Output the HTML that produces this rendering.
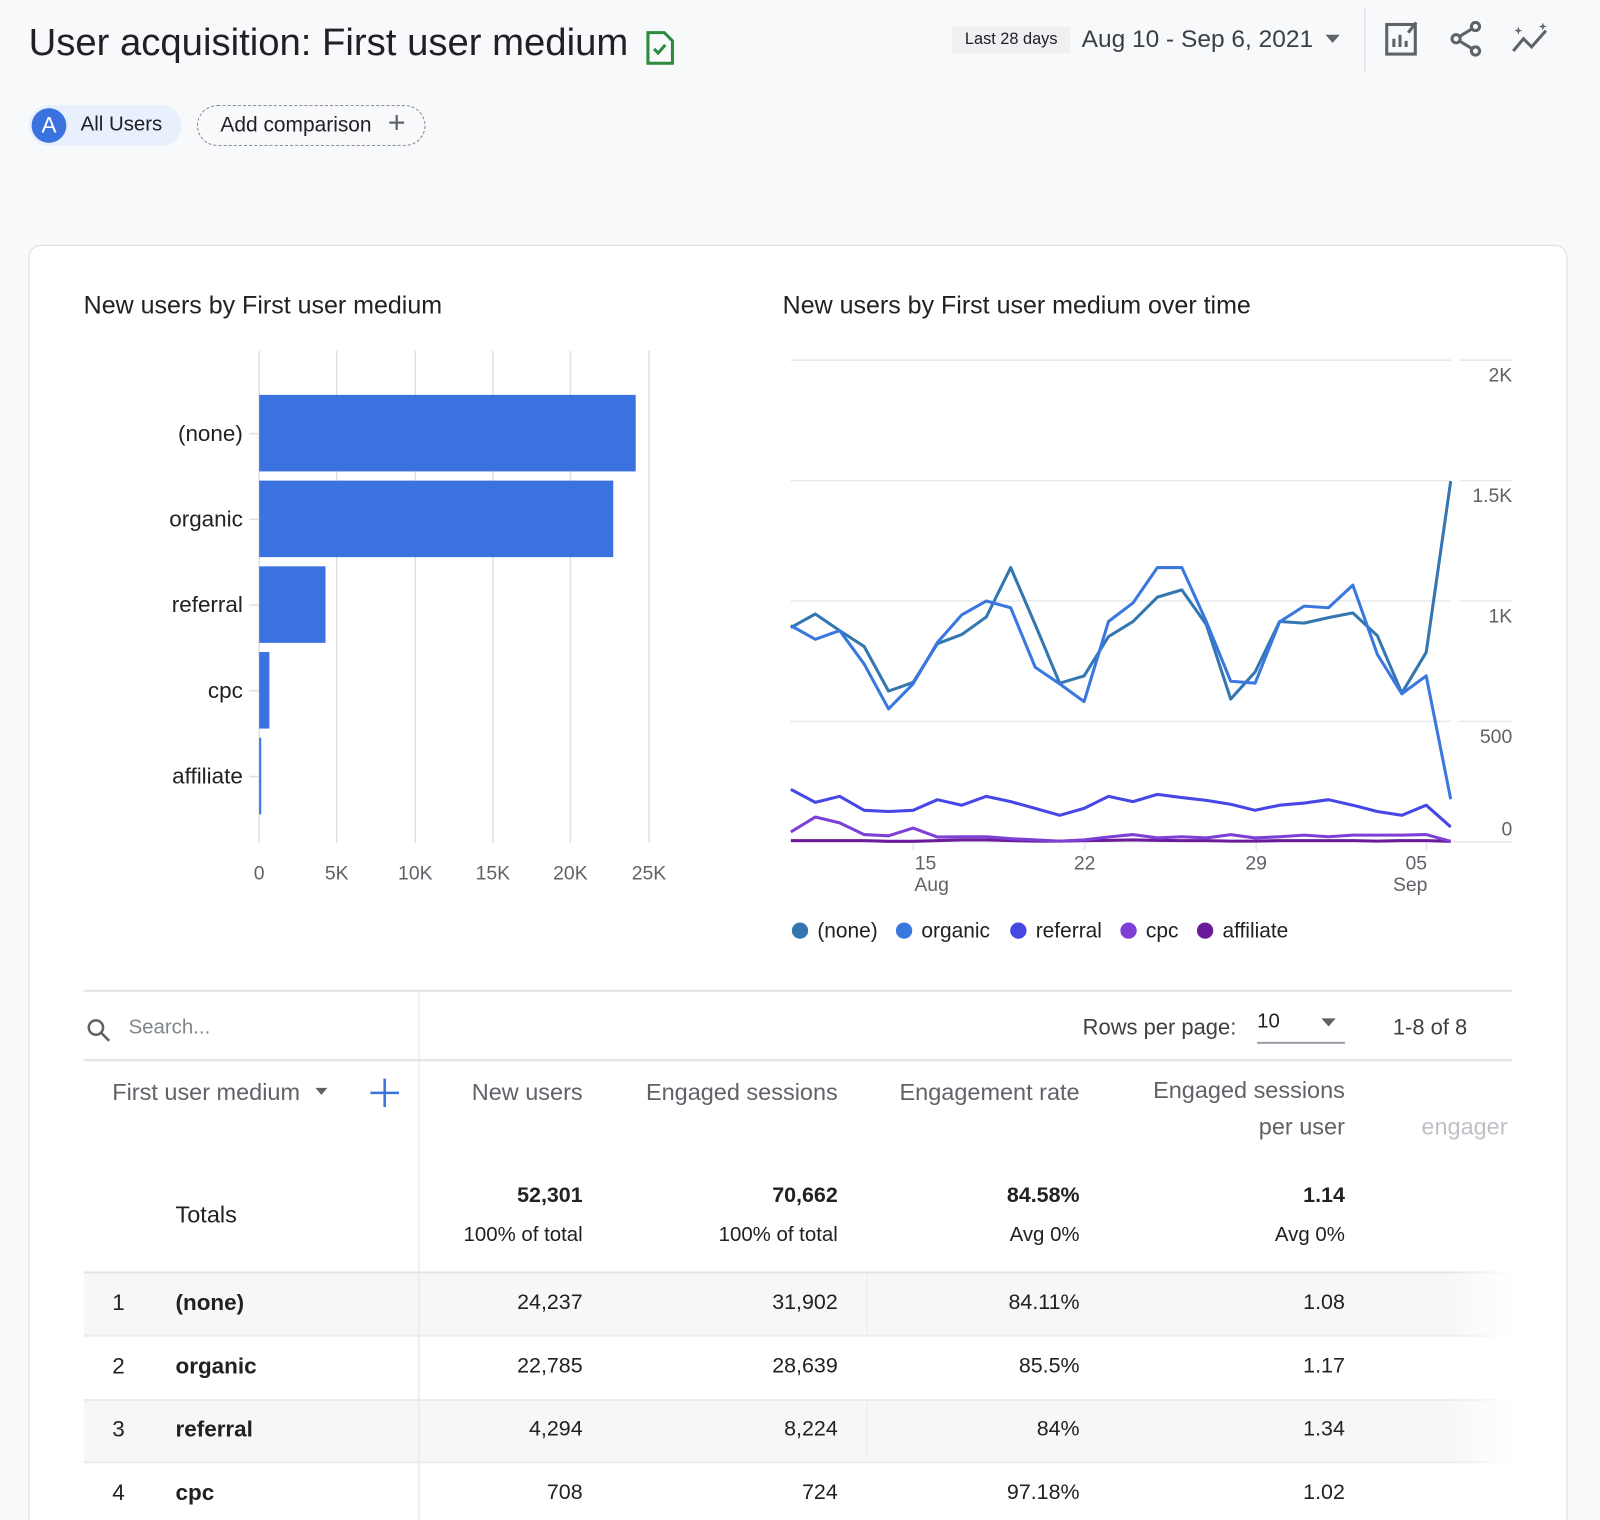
<!DOCTYPE html>
<html><head><meta charset="utf-8">
<style>
html,body{margin:0;padding:0;width:1600px;height:1520px;overflow:hidden;background:#f8f9fb;}
#w{position:absolute;left:0;top:0;width:1568px;height:1490px;overflow:hidden;transform:scale(1.0204);transform-origin:0 0;font-family:"Liberation Sans",sans-serif;color:#202124;}
.a{position:absolute;white-space:nowrap;}
.r{text-align:right;}
.g{color:#5f6368;}
</style></head><body><div id="w">
<div class="a" style="left:28px;top:20px;font-size:37.5px;">User acquisition: First user medium</div>
<svg class="a" style="left:632px;top:30px" width="30" height="34"><path d="M3 2h16l8 8v22H3z" fill="none" stroke="#2e8b3e" stroke-width="3"/><path d="M9 18l4 4 7-8" fill="none" stroke="#2e8b3e" stroke-width="3"/></svg>
<div class="a" style="left:933px;top:26px;width:116px;height:26px;background:#eef0f2;font-size:16px;line-height:26px;text-align:center;">Last 28 days</div>
<div class="a" style="left:1060px;top:25px;font-size:24px;color:#3c4043;">Aug 10 - Sep 6, 2021</div>
<svg class="a" style="left:1298px;top:33px" width="16" height="10"><path d="M1 1h14L8 9z" fill="#5f6368"/></svg>
<div class="a" style="left:1337px;top:8px;width:1px;height:62px;background:#dadce0"></div>
<svg class="a" style="left:1356px;top:20px" width="36" height="36"><rect x="3" y="4" width="28" height="29" fill="none" stroke="#5f6368" stroke-width="3"/><path d="M10 26v-8M16 26v-12M22 26v-6" stroke="#5f6368" stroke-width="3"/><path d="M24 12l8-10" stroke="#5f6368" stroke-width="3"/></svg>
<svg class="a" style="left:1420px;top:20px" width="36" height="36"><circle cx="26" cy="6" r="4" fill="none" stroke="#5f6368" stroke-width="3"/><circle cx="7" cy="18" r="4" fill="none" stroke="#5f6368" stroke-width="3"/><circle cx="26" cy="30" r="4" fill="none" stroke="#5f6368" stroke-width="3"/><path d="M10 16l13-8M10 20l13 8" stroke="#5f6368" stroke-width="3"/></svg>
<svg class="a" style="left:1480px;top:20px" width="40" height="36"><path d="M3 30l10-12 8 8 14-16" fill="none" stroke="#5f6368" stroke-width="3"/><path d="M8 6l1 3 3 1-3 1-1 3-1-3-3-1 3-1zM32 2l1 3 3 1-3 1-1 3-1-3-3-1 3-1z" fill="#5f6368"/></svg>
<div class="a" style="left:28px;top:103px;width:150px;height:40px;border-radius:20px;background:#e8effd;"></div>
<div class="a" style="left:31px;top:106px;width:34px;height:34px;border-radius:17px;background:#3a73e0;color:#fff;font-size:22px;line-height:34px;text-align:center;">A</div>
<div class="a" style="left:79px;top:111px;font-size:20px;">All Users</div>
<div class="a" style="left:193px;top:103px;width:222px;height:38px;border-radius:20px;border:1.5px dashed #80868b;"></div>
<div class="a" style="left:216px;top:111px;font-size:20.5px;">Add comparison</div>
<div class="a" style="left:380px;top:104px;font-size:30px;color:#5f6368;font-weight:300">+</div>

<div class="a" style="left:28px;top:240px;width:1506px;height:1270px;border:1.5px solid #dadce0;border-radius:12px;background:#fff;"></div>
<div class="a" style="left:82px;top:286px;font-size:24.5px;">New users by First user medium</div>
<div class="a" style="left:767px;top:286px;font-size:24.5px;">New users by First user medium over time</div>

<svg class="a" style="left:0;top:0" width="1568" height="960" font-family="Liberation Sans" font-size="19" fill="#5f6368">
<g stroke="#e0e0e0" stroke-width="1.5">
<line x1="254" y1="344" x2="254" y2="826"/><line x1="330" y1="344" x2="330" y2="826"/><line x1="407" y1="344" x2="407" y2="826"/><line x1="483" y1="344" x2="483" y2="826"/><line x1="559" y1="344" x2="559" y2="826"/><line x1="636" y1="344" x2="636" y2="826"/>
<line x1="244" y1="425" x2="254" y2="425"/><line x1="244" y1="509" x2="254" y2="509"/><line x1="244" y1="593" x2="254" y2="593"/><line x1="244" y1="677" x2="254" y2="677"/><line x1="244" y1="761" x2="254" y2="761"/>
</g>
<g fill="#3a73e0"><rect x="254" y="387" width="369" height="75"/><rect x="254" y="471" width="347" height="75"/><rect x="254" y="555" width="65" height="75"/><rect x="254" y="639" width="10" height="75"/><rect x="254" y="723" width="2" height="75"/></g>
<g fill="#202124" font-size="22" text-anchor="end"><text x="238" y="432">(none)</text><text x="238" y="516">organic</text><text x="238" y="600">referral</text><text x="238" y="684">cpc</text><text x="238" y="768">affiliate</text></g>
<g text-anchor="middle"><text x="254" y="862">0</text><text x="330" y="862">5K</text><text x="407" y="862">10K</text><text x="483" y="862">15K</text><text x="559" y="862">20K</text><text x="636" y="862">25K</text></g>
<g stroke="#e8e8e8" stroke-width="1.5"><line x1="775" y1="353" x2="1422" y2="353"/><line x1="775" y1="471" x2="1422" y2="471"/><line x1="775" y1="589" x2="1422" y2="589"/><line x1="775" y1="707" x2="1422" y2="707"/><line x1="775" y1="825" x2="1482" y2="825"/><line x1="1430" y1="353" x2="1482" y2="353"/><line x1="1430" y1="471" x2="1482" y2="471"/><line x1="1430" y1="589" x2="1482" y2="589"/><line x1="1430" y1="707" x2="1482" y2="707"/>
<line x1="895" y1="825" x2="895" y2="833"/><line x1="1063" y1="825" x2="1063" y2="833"/><line x1="1231" y1="825" x2="1231" y2="833"/><line x1="1398" y1="825" x2="1398" y2="833"/></g>
<g text-anchor="end"><text x="1482" y="374">2K</text><text x="1482" y="492">1.5K</text><text x="1482" y="610">1K</text><text x="1482" y="728">500</text><text x="1482" y="819">0</text></g>
<g text-anchor="middle"><text x="907" y="852">15</text><text x="913" y="873">Aug</text><text x="1063" y="852">22</text><text x="1231" y="852">29</text><text x="1388" y="852">05</text><text x="1382" y="873">Sep</text></g>
<g id="lines" fill="none" stroke-width="3" stroke-linejoin="round"></g>
<g font-size="20.5" fill="#202124"><circle cx="784" cy="912" r="8" fill="#3477b0"/><text x="801" y="919">(none)</text><circle cx="886" cy="912" r="8" fill="#3a78e0"/><text x="903" y="919">organic</text><circle cx="998" cy="912" r="8" fill="#4747e6"/><text x="1015" y="919">referral</text><circle cx="1106" cy="912" r="8" fill="#7d3fd6"/><text x="1123" y="919">cpc</text><circle cx="1181" cy="912" r="8" fill="#6a1a9a"/><text x="1198" y="919">affiliate</text></g>
</svg>

<div class="a" style="left:82px;top:970px;width:1400px;height:2px;background:#e3e3e3"></div>
<div class="a" style="left:82px;top:1038px;width:1400px;height:2px;background:#e3e3e3"></div>
<div class="a" style="left:410px;top:972px;width:1px;height:518px;background:#e3e3e3"></div>
<svg class="a" style="left:84px;top:997px" width="26" height="26"><circle cx="10" cy="10" r="7" fill="none" stroke="#5f6368" stroke-width="2.5"/><path d="M15 15l8 8" stroke="#5f6368" stroke-width="2.5"/></svg>
<div class="a g" style="left:126px;top:996px;font-size:20px;color:#80868b">Search...</div>
<div class="a" style="left:1061px;top:995px;font-size:21.5px;color:#3c4043">Rows per page:</div>
<div class="a" style="left:1232px;top:990px;font-size:20px;">10</div>
<svg class="a" style="left:1294px;top:997px" width="16" height="10"><path d="M1 1h14L8 9z" fill="#5f6368"/></svg>
<div class="a" style="left:1232px;top:1021px;width:86px;height:2px;background:#9aa0a6"></div>
<div class="a" style="left:1365px;top:995px;font-size:21.5px;color:#3c4043">1-8 of 8</div>

<div class="a g" style="left:110px;top:1057px;font-size:23px;">First user medium</div>
<svg class="a" style="left:309px;top:1066px" width="12" height="8"><path d="M0 0h12L6 7z" fill="#5f6368"/></svg>
<svg class="a" style="left:362px;top:1056px" width="30" height="30"><path d="M15 1v28M1 15h28" stroke="#3a73e0" stroke-width="2.5"/></svg>
<div class="a g" style="left:400px;width:171px;top:1057px;font-size:23px;text-align:right">New users</div>
<div class="a g" style="left:600px;width:221px;top:1057px;font-size:23px;text-align:right">Engaged sessions</div>
<div class="a g" style="left:850px;width:208px;top:1057px;font-size:23px;text-align:right">Engagement rate</div>
<div class="a g" style="left:1080px;width:238px;top:1055px;font-size:23px;text-align:right">Engaged sessions</div>
<div class="a g" style="left:1080px;width:238px;top:1091px;font-size:23px;text-align:right">per user</div>
<div class="a" style="left:1393px;top:1091px;font-size:23px;color:#bdc1c6">engager</div>

<div class="a" style="left:172px;top:1177px;font-size:23px;">Totals</div>
<div class="a r" style="left:400px;width:171px;top:1160px;font-size:21px;font-weight:bold">52,301</div>
<div class="a r" style="left:400px;width:171px;top:1199px;font-size:20px;">100% of total</div>
<div class="a r" style="left:600px;width:221px;top:1160px;font-size:21px;font-weight:bold">70,662</div>
<div class="a r" style="left:600px;width:221px;top:1199px;font-size:20px;">100% of total</div>
<div class="a r" style="left:850px;width:208px;top:1160px;font-size:21px;font-weight:bold">84.58%</div>
<div class="a r" style="left:850px;width:208px;top:1199px;font-size:20px;">Avg 0%</div>
<div class="a r" style="left:1080px;width:238px;top:1160px;font-size:21px;font-weight:bold">1.14</div>
<div class="a r" style="left:1080px;width:238px;top:1199px;font-size:20px;">Avg 0%</div>

<div class="a" style="left:82px;top:1246px;width:1400px;height:2px;background:#e3e3e3"></div>
<div class="a" style="left:82px;top:1248px;width:1400px;height:60px;background:#f7f7f7"></div>
<div class="a" style="left:82px;top:1308px;width:1400px;height:2px;background:#ececec"></div>
<div class="a" style="left:82px;top:1371px;width:1400px;height:2px;background:#ececec"></div>
<div class="a" style="left:82px;top:1373px;width:1400px;height:60px;background:#f7f7f7"></div>
<div class="a" style="left:82px;top:1432px;width:1400px;height:2px;background:#ececec"></div>
<div class="a" style="left:410px;top:1248px;width:1px;height:242px;background:#e3e3e3"></div>
<div class="a" style="left:849px;top:1248px;width:1px;height:60px;background:#ececec"></div>
<div class="a" style="left:849px;top:1373px;width:1px;height:60px;background:#ececec"></div>
<div class="a" style="left:1420px;top:1240px;width:64px;height:250px;background:linear-gradient(to right,rgba(255,255,255,0),#fff)"></div>

<div id="rows"></div>
</div>
<script>
var none=[890,946,877,811,626,662,823,861,934,1139,902,659,689,852,915,1016,1046,902,593,705,915,908,931,951,856,618,787,1498];
var org=[898,841,877,738,552,656,828,943,1000,972,725,656,582,915,992,1139,1139,915,667,659,913,979,972,1066,779,615,689,177];
var ref=[218,164,189,131,126,131,175,152,189,167,139,110,139,189,167,197,184,172,156,131,152,161,175,152,126,110,152,62];
var cpc=[41,103,79,30,25,57,20,21,21,13,8,3,8,20,30,16,21,16,30,16,21,28,21,28,28,28,30,2];
var aff=[5,5,5,5,2,2,5,8,8,5,3,3,5,6,8,6,5,5,3,3,5,5,5,5,3,5,5,2];
function pts(a){return a.map(function(v,i){return (775+i*23.95).toFixed(1)+','+(825-v*0.236).toFixed(1)}).join(' ');}
var g=document.getElementById('lines'),h='';
[[aff,'#6a1a9a'],[cpc,'#7d3fd6'],[ref,'#4747e6'],[none,'#3477b0'],[org,'#3a78e0']].forEach(function(s){h+='<polyline stroke="'+s[1]+'" points="'+pts(s[0])+'"/>';});
g.innerHTML=h;
var rows=[['1','(none)','24,237','31,902','84.11%','1.08'],['2','organic','22,785','28,639','85.5%','1.17'],['3','referral','4,294','8,224','84%','1.34'],['4','cpc','708','724','97.18%','1.02']];
var r='';rows.forEach(function(d,i){var t=1264+i*62;
r+='<div class="a" style="left:110px;top:'+t+'px;font-size:22px">'+d[0]+'</div><div class="a" style="left:172px;top:'+t+'px;font-size:22px;font-weight:bold;color:#202124">'+d[1]+'</div>'+
'<div class="a r" style="left:400px;width:171px;top:'+(t+1)+'px;font-size:21px">'+d[2]+'</div><div class="a r" style="left:600px;width:221px;top:'+(t+1)+'px;font-size:21px">'+d[3]+'</div><div class="a r" style="left:850px;width:208px;top:'+(t+1)+'px;font-size:21px">'+d[4]+'</div><div class="a r" style="left:1080px;width:238px;top:'+(t+1)+'px;font-size:21px">'+d[5]+'</div>';});
document.getElementById('rows').innerHTML=r;
</script>
</body></html>
